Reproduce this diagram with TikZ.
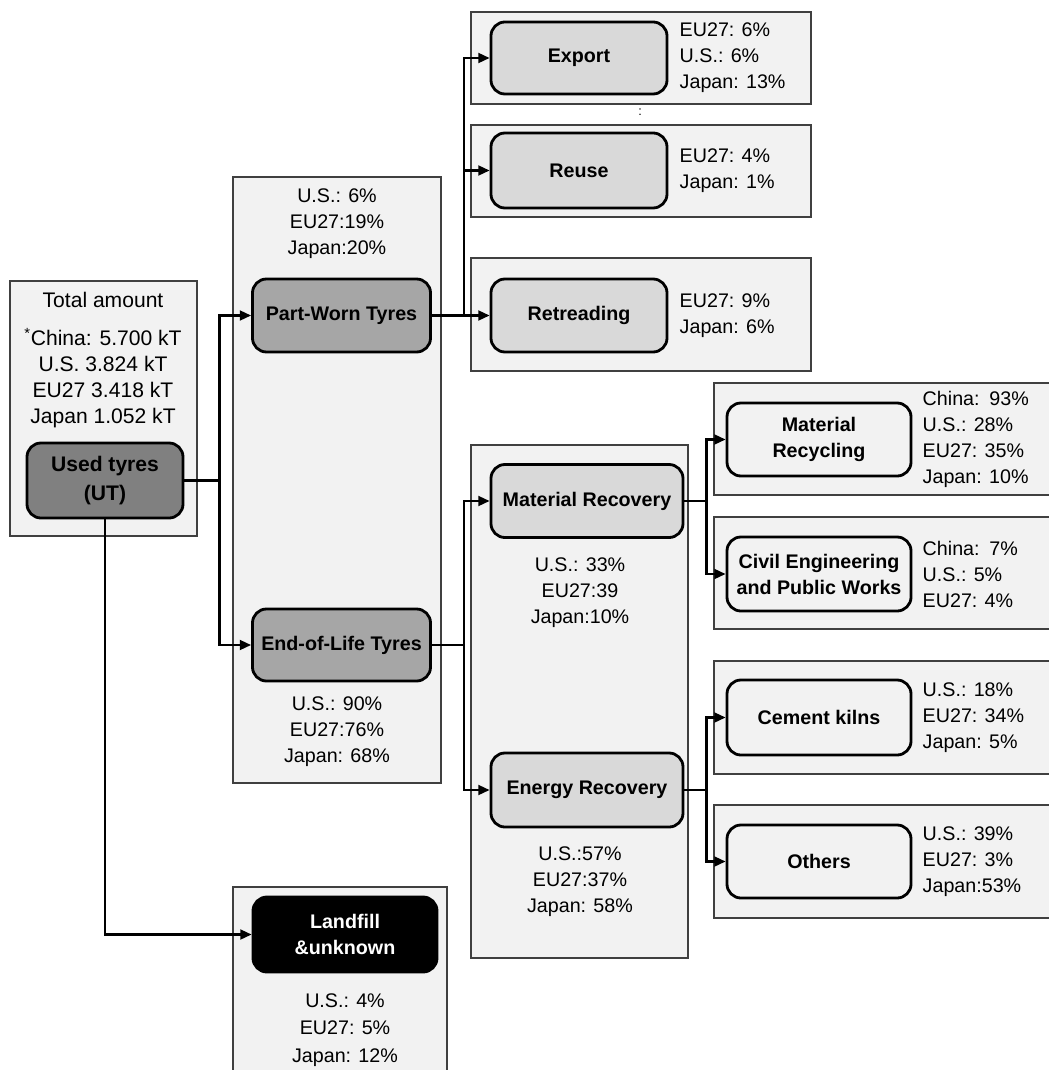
\documentclass[tikz,border=0pt]{standalone}
\usepackage{fontspec}
\setmainfont{Liberation Sans}
\usetikzlibrary{arrows.meta,positioning}

\tikzset{
  panelbg/.style={draw=black!75, line width=0.8pt, fill=black!5},
  tyrebox/.style={draw, line width=2pt, rounded corners=0.35cm, align=center, inner sep=2pt,
    font=\bfseries\fontsize{14}{18.5}\selectfont},
  listtext/.style={inner sep=0pt, align=left, font=\fontsize{14}{18.5}\selectfont},
  flow/.style={line width=1.6pt},
  flowarrow/.style={flow, -{Triangle[length=8pt,width=7pt]}}
}

\begin{document}
\begin{tikzpicture}[x=0.025cm, y=-0.025cm]
\clip (0,0) rectangle (1049,1070);

% panels
\draw[panelbg] (10,281) rectangle (197,536);
\draw[panelbg] (233,177) rectangle (441,783);
\draw[panelbg] (471,12) rectangle (811,104);
\draw[panelbg] (471,125) rectangle (811,217);
\draw[panelbg] (471,258) rectangle (811,371);
\draw[panelbg] (471,445) rectangle (688,958);
\draw[panelbg] (714,383) rectangle (1060,495);
\draw[panelbg] (714,517) rectangle (1060,629);
\draw[panelbg] (714,661) rectangle (1060,774);
\draw[panelbg] (714,805) rectangle (1060,918);
\draw[panelbg] (233,887) rectangle (447,1080);

% tyre flow boxes
\node[tyrebox, fill=black!50, minimum width=3.9cm, minimum height=1.875cm,
  font=\bfseries\fontsize{15}{20}\selectfont] (used) at (105,480.5) {Used tyres\\(UT)};
\node[tyrebox, fill=black!35, minimum width=4.45cm, minimum height=1.825cm] (pw) at (341.5,315.5) {Part-Worn Tyres};
\node[tyrebox, fill=black!35, minimum width=4.45cm, minimum height=1.8cm] (eol) at (341.5,645) {End-of-Life Tyres};
\node[tyrebox, fill=black!15, minimum width=4.4cm, minimum height=1.8cm] (export) at (579,58) {Export};
\node[tyrebox, fill=black!15, minimum width=4.4cm, minimum height=1.875cm] (reuse) at (579,170.5) {Reuse};
\node[tyrebox, fill=black!15, minimum width=4.4cm, minimum height=1.825cm] (retread) at (579,315.5) {Retreading};
\node[tyrebox, fill=black!15, minimum width=4.8cm, minimum height=1.825cm] (matrec) at (587,501) {Material Recovery};
\node[tyrebox, fill=black!15, minimum width=4.8cm, minimum height=1.85cm] (enrec) at (587,790) {Energy Recovery};
\node[tyrebox, fill=black!5, minimum width=4.6cm, minimum height=1.825cm] (recyc) at (819,439.5) {Material\\Recycling};
\node[tyrebox, fill=black!5, minimum width=4.6cm, minimum height=1.85cm] (civil) at (819,574) {Civil Engineering\\and Public Works};
\node[tyrebox, fill=black!5, minimum width=4.6cm, minimum height=1.875cm] (cement) at (819,717.5) {Cement kilns};
\node[tyrebox, fill=black!5, minimum width=4.6cm, minimum height=1.825cm] (others) at (819,861.5) {Others};
\node[tyrebox, fill=black, text=white, minimum width=4.6cm, minimum height=1.875cm] (landfill) at (345,934.5) {Landfill\\\&unknown};

% shares
\node[listtext, font=\fontsize{15}{18.3}\selectfont] (total) at (103,300) {Total amount};
\node[listtext, align=center, font=\fontsize{15}{18.3}\selectfont] (totlist) at (103,378)
  {\textsuperscript{*}China: 5.700 kT\\U.S. 3.824 kT\\EU27 3.418 kT\\Japan 1.052 kT};
\node[listtext, align=center] (pwpct) at (337,224) {U.S.: 6\%\\EU27:19\%\\Japan:20\%};
\node[listtext, align=center] (eolpct) at (337,732) {U.S.: 90\%\\EU27:76\%\\Japan: 68\%};
\node[listtext, right=0.275cm of export] (exportpct) {EU27: 6\%\\U.S.: 6\%\\Japan: 13\%};
\node[font=\fontsize{9}{10}\selectfont, inner sep=0pt] (dots) at (640,112) {:};
\node[listtext, right=0.275cm of reuse] (reusepct) {EU27: 4\%\\Japan: 1\%};
\node[listtext, right=0.275cm of retread] (retreadpct) {EU27: 9\%\\Japan: 6\%};
\node[listtext, align=center] (matrecpct) at (580,593) {U.S.: 33\%\\EU27:39\\Japan:10\%};
\node[listtext, align=center] (enrecpct) at (580,882) {U.S.:57\%\\EU27:37\%\\Japan: 58\%};
\node[listtext, right=0.25cm of recyc] (recycpct) {China:\enspace 93\%\\U.S.: 28\%\\EU27: 35\%\\Japan: 10\%};
\node[listtext, right=0.25cm of civil] (civilpct) {China:\enspace 7\%\\U.S.: 5\%\\EU27: 4\%};
\node[listtext, right=0.25cm of cement] (cementpct) {U.S.: 18\%\\EU27: 34\%\\Japan: 5\%};
\node[listtext, right=0.25cm of others] (otherspct) {U.S.: 39\%\\EU27: 3\%\\Japan:53\%};
\node[listtext, align=center, font=\fontsize{14}{19.5}\selectfont] (landfillpct) at (345,1030) {U.S.: 4\%\\EU27: 5\%\\Japan: 12\%};

% connectors
\coordinate[right=0.875cm of used] (usedsplit);
\draw[flow] (used.east) -- (usedsplit);
\draw[flowarrow] (usedsplit) |- (pw.west);
\draw[flowarrow] (usedsplit) |- (eol.west);
\draw[flowarrow] (used.south) |- (landfill.west);

\coordinate[right=0.8cm of pw] (pwsplit);
\draw[flowarrow] (pw.east) -- (retread.west);
\draw[flowarrow] (pwsplit) |- (export.west);
\draw[flowarrow] (pwsplit) |- (reuse.west);

\coordinate[right=0.8cm of eol] (eolsplit);
\draw[flow] (eol.east) -- (eolsplit);
\draw[flowarrow] (eolsplit) |- (matrec.west);
\draw[flowarrow] (eolsplit) |- (enrec.west);

\coordinate[right=0.55cm of matrec] (matsplit);
\draw[flow] (matrec.east) -- (matsplit);
\draw[flowarrow] (matsplit) |- (recyc.west);
\draw[flowarrow] (matsplit) |- (civil.west);

\coordinate[right=0.55cm of enrec] (ensplit);
\draw[flow] (enrec.east) -- (ensplit);
\draw[flowarrow] (ensplit) |- (cement.west);
\draw[flowarrow] (ensplit) |- (others.west);
\end{tikzpicture}
\end{document}
